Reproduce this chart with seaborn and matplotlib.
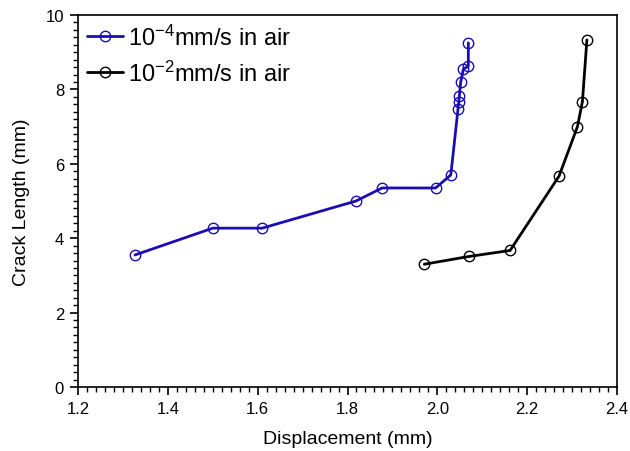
import numpy as np
import pandas as pd
import matplotlib
matplotlib.use("Agg")
import matplotlib.pyplot as plt
import seaborn as sns
from matplotlib.ticker import MultipleLocator

slow_x = [1.327, 1.500, 1.610, 1.819, 1.877, 1.996, 2.030, 2.046, 2.048, 2.049, 2.052, 2.058, 2.069, 2.069]
slow_y = [3.55, 4.27, 4.27, 5.00, 5.35, 5.35, 5.70, 7.47, 7.67, 7.83, 8.19, 8.55, 8.62, 9.25]
fast_x = [1.971, 2.071, 2.162, 2.271, 2.312, 2.323, 2.333]
fast_y = [3.30, 3.51, 3.67, 5.67, 7.00, 7.67, 9.33]
labels = [r"10$^{\mathregular{-4}}$mm/s in air", r"10$^{\mathregular{-2}}$mm/s in air"]
colors = ["#1a0db3", "#000000"]

sns.set_theme(style="ticks")
plt.rcParams["font.family"] = ["Liberation Sans", "DejaVu Sans"]
plt.rcParams["mathtext.fontset"] = "custom"
plt.rcParams["mathtext.rm"] = "Liberation Sans"
plt.rcParams["mathtext.it"] = "Liberation Sans"
plt.rcParams["axes.unicode_minus"] = False
plt.rcParams["text.color"] = "black"
plt.rcParams["axes.labelcolor"] = "black"

fig = plt.figure(figsize=(6.3, 4.52), dpi=100)
ax = fig.add_axes([78/630, 1 - 388/452, (617-78)/630, (388-16)/452])

for xs, ys, lab, c in [(slow_x, slow_y, labels[0], colors[0]), (fast_x, fast_y, labels[1], colors[1])]:
    df = pd.DataFrame({"x": xs, "y": ys})
    sns.lineplot(data=df, x="x", y="y", sort=False, estimator=None, ax=ax, color=c, lw=2,
                 marker="o", markersize=7.5, markerfacecolor="none",
                 markeredgecolor=c, markeredgewidth=1, label=lab)

ax.set_xlim(1.2, 2.4)
ax.set_ylim(0, 10)
ax.xaxis.set_major_locator(MultipleLocator(0.2))
ax.xaxis.set_minor_locator(MultipleLocator(0.02))
ax.yaxis.set_major_locator(MultipleLocator(2))
ax.yaxis.set_minor_locator(MultipleLocator(0.2))
ax.set_xticklabels([f"{v:.1f}" for v in ax.get_xticks()])
ax.tick_params(which="major", direction="out", length=6, width=1.2, labelsize=12, colors="black", pad=4)
ax.tick_params(which="minor", direction="out", length=3.5, width=1, colors="black")
for s in ax.spines.values():
    s.set_linewidth(1.2)
    s.set_color("black")
ax.set_xlabel("Displacement (mm)", fontsize=14, labelpad=10, color="black")
ax.set_ylabel("Crack Length (mm)", fontsize=14, labelpad=11, color="black")

leg = ax.legend(loc="upper left", frameon=False, fontsize=17, handlelength=1.5,
                handletextpad=0.2, borderaxespad=0.1, labelspacing=0.45,
                borderpad=0.3, labelcolor="black")

fig.savefig("out.png", dpi=100)
